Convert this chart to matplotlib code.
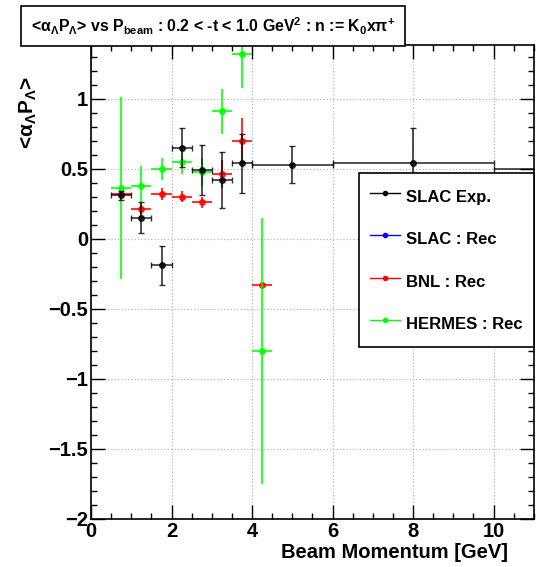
import matplotlib
matplotlib.use("Agg")
import matplotlib.pyplot as plt
from matplotlib.lines import Line2D
from matplotlib.ticker import MultipleLocator

plt.rcParams['font.family'] = ['Liberation Sans', 'DejaVu Sans']
plt.rcParams['font.weight'] = 'bold'
plt.rcParams['mathtext.fontset'] = 'custom'
plt.rcParams['mathtext.rm'] = 'Liberation Sans:bold'
plt.rcParams['mathtext.it'] = 'Liberation Sans:bold'
plt.rcParams['mathtext.bf'] = 'Liberation Sans:bold'
plt.rcParams['mathtext.default'] = 'rm'

# SLAC Exp.
slac_x = [0.75, 1.25, 1.75, 2.25, 2.75, 3.25, 3.75, 5.0, 8.0, 12.0]
slac_xerr = [0.25, 0.25, 0.25, 0.25, 0.25, 0.25, 0.25, 1.0, 2.0, 2.0]
slac_y = [0.31, 0.15, -0.19, 0.65, 0.49, 0.42, 0.54, 0.53, 0.54, 0.50]
slac_yerr = [0.03, 0.11, 0.14, 0.14, 0.18, 0.20, 0.21, 0.13, 0.25, 0.2]

# BNL : Rec
bnl_x = [0.75, 1.25, 1.75, 2.25, 2.75, 3.25, 3.75, 4.25]
bnl_y = [0.32, 0.21, 0.32, 0.30, 0.26, 0.46, 0.70, -0.33]
bnl_yerr = [0.02, 0.04, 0.04, 0.04, 0.04, 0.10, 0.16, 0.02]

# HERMES : Rec
hermes_x = [0.75, 1.25, 1.75, 2.25, 2.75, 3.25, 3.75, 4.25]
hermes_y = [0.36, 0.38, 0.50, 0.55, 0.48, 0.91, 1.32, -0.80]
hermes_yerr = [0.65, 0.14, 0.08, 0.09, 0.10, 0.16, 0.24, 0.95]

fig = plt.figure(figsize=(5.42, 5.67), dpi=100)
ax = fig.add_axes([0.168, 0.085, 0.817, 0.836])

ax.errorbar(bnl_x, bnl_y, xerr=0.25, yerr=bnl_yerr, fmt='o', color='red',
            ms=4, elinewidth=1.5, capsize=0, alpha=0.8, zorder=3)
ax.errorbar(hermes_x, hermes_y, xerr=0.25, yerr=hermes_yerr, fmt='o', color='#00ff00',
            ms=4, elinewidth=1.5, capsize=0, alpha=0.8, zorder=4)
ax.errorbar(slac_x, slac_y, xerr=slac_xerr, yerr=slac_yerr, fmt='o', color='black',
            ms=4, elinewidth=1.2, capsize=2, alpha=0.8, zorder=5)

ax.set_xlim(0, 11)
ax.set_ylim(-2, 1.385)
ax.xaxis.set_major_locator(MultipleLocator(2))
ax.xaxis.set_minor_locator(MultipleLocator(0.5))
ax.yaxis.set_major_locator(MultipleLocator(0.5))
ax.yaxis.set_minor_locator(MultipleLocator(0.1))
ax.tick_params(which='both', direction='in', top=True, right=True, labelsize=14.5, pad=2)
ax.tick_params(which='major', length=10, width=1)
ax.tick_params(which='minor', length=4.5, width=1)
ax.set_yticks([-2, -1.5, -1, -0.5, 0, 0.5, 1])
ax.set_yticklabels(['\u22122', '\u22121.5', '\u22121', '\u22120.5', '0', '0.5', '1'])
ax.grid(True, which='major', color='#b8b8b8', linestyle=':', linewidth=0.9)
for s in ax.spines.values():
    s.set_linewidth(1.2)

handles = [
    Line2D([], [], color='black', marker='o', ms=3, lw=1),
    Line2D([], [], color='blue', marker='o', ms=3, lw=1),
    Line2D([], [], color='red', marker='o', ms=3, lw=1),
    Line2D([], [], color='#00ff00', marker='o', ms=3, lw=1),
]
labels = ['SLAC Exp.', 'SLAC : Rec', 'BNL : Rec', 'HERMES : Rec']
leg = ax.legend(handles, labels, loc='upper left', bbox_to_anchor=(0.605, 0.73, 0.395, 0.0),
                mode='expand', fontsize=12, labelspacing=1.0, borderpad=0.65,
                handlelength=1.8, handleheight=2.0, handletextpad=0.4, borderaxespad=0,
                fancybox=False, framealpha=1, edgecolor='black')
leg.get_frame().set_linewidth(1.2)

fig.text(0.393, 0.954,
         r'<$\alpha_{\Lambda}$P$_{\Lambda}$> vs P$_{\mathrm{beam}}$ : 0.2 < -t < 1.0 GeV$^{2}$ : n := K$_{0}$x$\pi^{+}$',
         ha='center', va='center', fontsize=11.4,
         bbox=dict(boxstyle='square,pad=0.6', fc='white', ec='black', lw=1.2))

fig.text(0.052, 0.802, r'<$\alpha_{\Lambda}$P$_{\Lambda}$>', rotation=90,
         ha='center', va='center', fontsize=15)
fig.text(0.937, 0.025, 'Beam Momentum [GeV]', ha='right', va='center', fontsize=14.5)

fig.savefig('out.png', dpi=100)
